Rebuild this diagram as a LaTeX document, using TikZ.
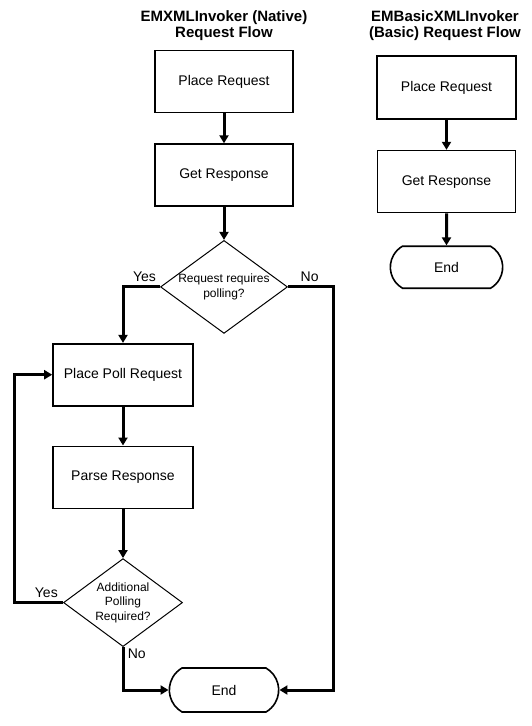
\documentclass[tikz,border=0pt]{standalone}
\usepackage{fontspec}
\setmainfont{Liberation Sans}
\usetikzlibrary{positioning,shapes.geometric,shapes.misc,arrows.meta}

\begin{document}
\begin{tikzpicture}[x=1pt,y=-1pt,
		box/.style={draw,line width=1.6pt,minimum width=138pt,minimum height=62pt,inner sep=0pt,font=\fontsize{14}{16}\selectfont},
		decision/.style={draw,diamond,line width=1pt,inner sep=-6pt,shape aspect=1.37,align=center,font=\fontsize{12}{14.5}\selectfont},
		stop/.style={draw,rounded rectangle,rounded rectangle arc length=120,line width=1.6pt,minimum width=117pt,minimum height=43pt,font=\fontsize{14}{16}\selectfont},
		heading/.style={align=center,font=\fontsize{15}{16.5}\selectfont\bfseries},
		flow/.style={line width=3pt,-{Triangle[length=8pt,width=9pt]}},
		answer/.style={font=\fontsize{14}{16}\selectfont}]
		\useasboundingbox (0,0) rectangle (531,726);

		\node[heading]	(nativetitle)	at (224,25.5)	{EMXMLInvoker (Native)\\Request Flow};
		\node[heading]	(basictitle)	at (445,25.5)	{EMBasicXMLInvoker\\(Basic) Request Flow};

		\node[box]												(place)		at (224,81.5)	{Place Request};
		\node[box,node distance=30pt,below=of place]				(get)		{Get Response};
		\node[decision,minimum width=127pt,minimum height=93pt,node distance=33pt,below=of get]	(needpoll)	{Request requires\\polling?};
		\node[box,minimum width=140pt,node distance=9pt,below=of needpoll,xshift=-101pt]		(poll)		{Place Poll Request};
		\node[box,minimum width=140pt,node distance=39pt,below=of poll]	(parse)		{Parse Response};
		\node[decision,minimum width=119pt,minimum height=88pt,node distance=49pt,below=of parse]	(more)		{Additional\\Polling\\Required?};
		\node[stop,minimum width=116pt,minimum height=44pt]			(finish)	at (224,690)	{End};
		\coordinate[left=49pt of more.west]						(back);
		\coordinate											(skip)		at (333,690);

		\node[box,minimum width=139pt,minimum height=63pt]			(bplace)	at (446.5,87.5)	{Place Request};
		\node[box,node distance=30pt,below=of bplace]				(bget)		{Get Response};
		\node[stop,minimum width=119pt,minimum height=42pt,node distance=32pt,below=of bget]	(bfinish)	{End};

		\draw[flow] (place) -- (get);
		\draw[flow] (get) -- (needpoll);
		\draw[flow] (needpoll.west) -| node[answer,above,pos=0.21] {Yes} (poll.north);
		\draw[flow] (needpoll.east) -| node[answer,above,pos=0.24] {No} (skip) -- (finish.east);
		\draw[flow] (poll) -- (parse);
		\draw[flow] (parse) -- (more);
		\draw[flow] (more.west) -- node[answer,above,pos=0.34] {Yes} (back) |- (poll.west);
		\draw[flow] (more.south) |- node[answer,right,pos=0.08] {No} (finish.west);
		\draw[flow] (bplace) -- (bget);
		\draw[flow] (bget) -- (bfinish);
	\end{tikzpicture}
\end{document}
